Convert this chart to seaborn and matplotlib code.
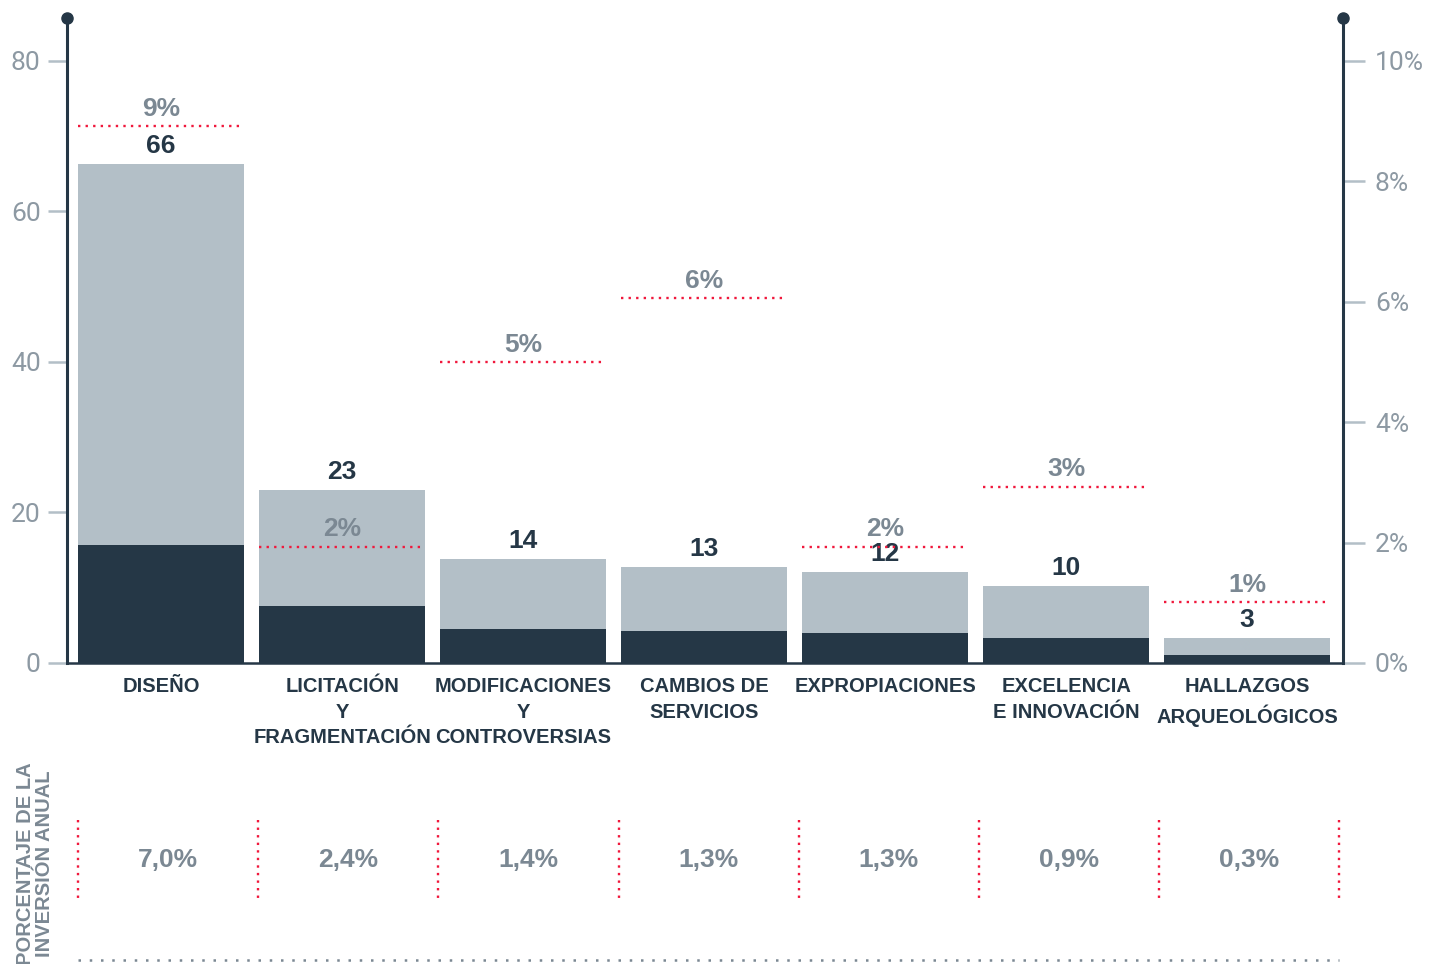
import matplotlib
matplotlib.use("Agg")
import matplotlib.pyplot as plt
import numpy as np
import pandas as pd
import seaborn as sns

# data
categorias = [
    "DISEÑO",
    "LICITACIÓN\nY\nFRAGMENTACIÓN",
    "MODIFICACIONES\nY\nCONTROVERSIAS",
    "CAMBIOS DE\nSERVICIOS",
    "EXPROPIACIONES",
    "EXCELENCIA\nE INNOVACIÓN",
    "HALLAZGOS\nARQUEOLÓGICOS",
]
total = [66.3, 23.0, 13.8, 12.8, 12.1, 10.2, 3.3]
parte_oscura = [15.7, 7.6, 4.5, 4.25, 4.0, 3.3, 1.06]
total_labels = ["66", "23", "14", "13", "12", "10", "3"]
porcentaje = [8.92, 1.93, 5.0, 6.06, 1.93, 2.93, 1.01]
porcentaje_labels = ["9%", "2%", "5%", "6%", "2%", "3%", "1%"]
inversion_anual = ["7,0%", "2,4%", "1,4%", "1,3%", "1,3%", "0,9%", "0,3%"]

left_ticks = [0, 20, 40, 60, 80]
right_ticks = [0, 2, 4, 6, 8, 10]

DARK = "#253746"
LIGHT = "#b3bfc7"
RED = "#f0183c"
GRAY = "#7b8893"
TICKGRAY = "#8d99a3"
BOLD = ["Liberation Sans", "DejaVu Sans"]

sns.set_theme(style="white")
plt.rcParams["font.family"] = ["Roboto", "DejaVu Sans"]

df = pd.DataFrame({"categoria": categorias, "total": total, "oscura": parte_oscura})

W, H = 1429, 964
fig = plt.figure(figsize=(W / 100, H / 100), dpi=100)
ax = fig.add_axes([67 / W, 1 - 663 / H, (1343 - 67) / W, (663 - 18) / H])

sns.barplot(data=df, x="categoria", y="total", color=LIGHT, width=0.92,
            saturation=1, linewidth=0, ax=ax, zorder=2)
sns.barplot(data=df, x="categoria", y="oscura", color=DARK, width=0.92,
            saturation=1, linewidth=0, ax=ax, zorder=3)

ymax = 85.7
ax.set_xlim(-0.52, 6.53)
ax.set_ylim(0, ymax)
ax.set_xlabel("")
ax.set_ylabel("")
ax.set_yticks(left_ticks)
ax.set_yticklabels([str(t) for t in left_ticks])
ax.tick_params(axis="y", direction="out", length=14, width=1.8, color=LIGHT,
               labelcolor=TICKGRAY, labelsize=19, pad=5, left=True)
ax.tick_params(axis="x", length=0, pad=10)
for lab in ax.get_xticklabels():
    lab.set_family(BOLD)
    lab.set_fontweight("bold")
    lab.set_fontsize(14.5)
    lab.set_color(DARK)
    lab.set_linespacing(1.45)

for s in ["top", "right"]:
    ax.spines[s].set_visible(False)
for s in ["left", "bottom"]:
    ax.spines[s].set_color(DARK)
    ax.spines[s].set_linewidth(2.2)
ax.spines["bottom"].set_linewidth(1.8)

for i, (v, lab) in enumerate(zip(total, total_labels)):
    ax.text(i, v + 0.8, lab, ha="center", va="bottom", fontsize=19,
            fontweight="bold", family=BOLD, color=DARK, zorder=5)

# right axis (percentages)
ax_r = ax.twinx()
ax_r.set_ylim(0, ymax / 8)
ax_r.set_yticks(right_ticks)
ax_r.set_yticklabels([f"{t}%" for t in right_ticks])
ax_r.tick_params(axis="y", direction="out", length=16, width=1.8, color=LIGHT,
                 labelcolor=TICKGRAY, labelsize=19, pad=7, right=True)
for s in ["top", "left", "bottom"]:
    ax_r.spines[s].set_visible(False)
ax_r.spines["right"].set_color(DARK)
ax_r.spines["right"].set_linewidth(2.2)
ax_r.grid(False)

for i, (p, lab) in enumerate(zip(porcentaje, porcentaje_labels)):
    ax_r.hlines(p, i - 0.46, i + 0.46, colors=RED, linewidth=1.7,
                linestyles=(0, (1, 2.2)), zorder=4)
    ax_r.text(i, p + 0.09, lab, ha="center", va="bottom", fontsize=19,
              fontweight="bold", family=BOLD, color=GRAY, zorder=5)

# dots at the top of the spines
for xpos in (0, 1):
    ax.plot([xpos], [1], "o", ms=8, color=DARK, transform=ax.transAxes,
            clip_on=False, zorder=6)

# bottom table: annual investment percentages
ax_b = fig.add_axes([67 / W, 0, (1343 - 67) / W, 164 / H])
ax_b.set_xlim(ax.get_xlim())
ax_b.set_ylim(164, 0)
ax_b.axis("off")
seps = np.linspace(-0.46, 6.51, len(categorias) + 1)
for xs in seps:
    ax_b.vlines(xs, 20, 98, colors=RED, linewidth=1.7, linestyles=(0, (1, 2.2)))
centers = (seps[:-1] + seps[1:]) / 2
for c, lab in zip(centers, inversion_anual):
    ax_b.text(c, 60, lab, ha="center", va="center", fontsize=19,
              fontweight="bold", family=BOLD, color=GRAY)
ax_b.hlines(160, seps[0], seps[-1], colors=GRAY, linewidth=1.8,
            linestyles=(0, (1, 3.5)))

fig.text(35 / W, 1 - 762 / H, "PORCENTAJE DE LA\nINVERSIÓN ANUAL", rotation=90,
         ha="center", va="top", fontsize=14.5, fontweight="bold", family=BOLD,
         color=GRAY, linespacing=1.0)

fig.savefig("out.png", dpi=100)
